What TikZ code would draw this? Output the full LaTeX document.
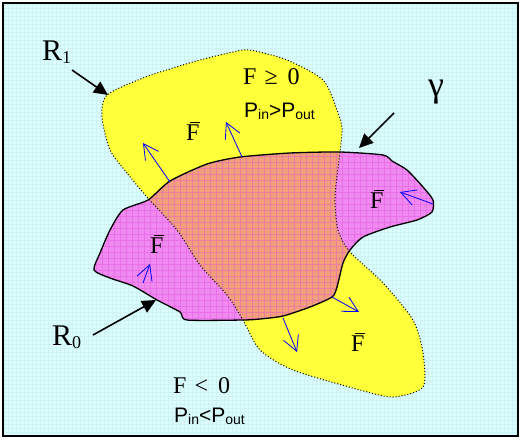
\documentclass[tikz,border=0pt]{standalone}
\usepackage{fontspec}
\setmainfont{Liberation Serif}
\newfontfamily\arial{Liberation Sans}
\usetikzlibrary{arrows.meta}
\definecolor{bgc}{HTML}{DCFDFD}
\definecolor{bggrid}{HTML}{CDF3F3}
\definecolor{yel}{HTML}{FFFF3A}
\definecolor{pnk}{HTML}{F08AF0}
\definecolor{pgrid}{HTML}{E040E0}
\definecolor{org}{HTML}{F2A07C}
\newcommand\vecF{\leavevmode\rlap{\hspace{0.16em}\raisebox{0.7em}{\rule{0.4em}{0.045em}}}F}
\newcommand\bigsz{\fontsize{30}{30}\selectfont}
\newcommand\midsz{\fontsize{24}{24}\selectfont}
\newcommand\subsz{\fontsize{18}{18}\selectfont}
\newcommand\psz{\arial\fontsize{21}{21}\selectfont}
\newcommand\pssz{\fontsize{14}{14}\selectfont}
\def\Rone{plot[smooth cycle, tension=0.45] coordinates {(147,197) (127,173) (110,150) (102,117) (107,95) (143,78) (173,68) (200,60) (233,52) (250,50) (287,60) (323,80) (337,110) (342,128) (340,152) (335,197) (338,230) (350,252) (383,283) (413,320) (423,353) (423,387) (393,397) (360,390) (293,370) (260,350) (243,320) (227,295) (200,265) (177,230)}}
\def\Rzero{plot[smooth cycle, tension=0.4] coordinates {(148,200) (170,181) (207,164) (240,157) (290,153) (340,152) (383,155) (392,161) (407,170) (423,187) (433,200) (432,212) (417,220) (390,227) (363,237) (350,250) (343,263) (337,287) (332,297) (310,307) (283,316) (260,319) (243,320) (187,320) (180,312) (157,300) (133,286) (110,278) (94,270) (100,253) (110,230) (123,210)}}
\tikzset{
  farrow/.style={draw=blue, line width=0.8pt, -{Straight Barb[length=15pt,width=16pt,line width=0.8pt]}},
  barrow/.style={draw=black, line width=1.6pt, -{Triangle[length=14pt,width=13pt]}},
  lbl/.style={inner sep=0pt, anchor=base west},
}
\begin{document}
\begin{tikzpicture}[x=1pt,y=-1pt]
\useasboundingbox (0,0) rectangle (521,439);
% background
\fill[bgc] (3,3) rectangle (518,436);
\draw[bggrid, line width=0.3pt, step=4pt] (3,3) grid (518,436);
% R1 yellow
\fill[yel] \Rone;
% R0 pink
\fill[pnk] \Rzero;
\begin{scope}
  \clip \Rzero;
  \fill[org] \Rone;
  \draw[pgrid, opacity=0.35, line width=0.6pt, step=6pt] (80,140) grid (440,330);
\end{scope}
% outlines
\draw[black, line width=1pt, dotted] \Rone;
\draw[black, line width=1.3pt] \Rzero;
% force arrows
\coordinate (a1s) at (170,182); \coordinate (a1e) at (143,143);
\coordinate (a2s) at (242,157); \coordinate (a2e) at (226,122);
\coordinate (a3s) at (433,204); \coordinate (a3e) at (400,192);
\coordinate (a4s) at (143,283); \coordinate (a4e) at (150,264);
\coordinate (a5s) at (332,297); \coordinate (a5e) at (359,312);
\coordinate (a6s) at (283,318); \coordinate (a6e) at (297,352);
\draw[farrow] (a1s) -- (a1e);
\draw[farrow] (a2s) -- (a2e);
\draw[farrow] (a3s) -- (a3e);
\draw[farrow] (a4s) -- (a4e);
\draw[farrow] (a5s) -- (a5e);
\draw[farrow] (a6s) -- (a6e);
% black pointer arrows
\coordinate (p1s) at (72,70); \coordinate (p1e) at (108,95);
\coordinate (p2s) at (394,113); \coordinate (p2e) at (359,148);
\coordinate (p3s) at (93,335); \coordinate (p3e) at (156,300);
\draw[barrow] (p1s) -- (p1e);
\draw[barrow] (p2s) -- (p2e);
\draw[barrow] (p3s) -- (p3e);
% labels
\node[lbl] (r1) at (42,60) {\bigsz R\raisebox{-3pt}{\subsz 1}};
\node[lbl] (r0) at (52,345) {\bigsz R\raisebox{-3pt}{\subsz 0}};
\node[lbl] (gam) at (428,96) {\fontsize{36}{36}\selectfont γ};
\node[lbl] (fge) at (243,84) {\midsz F\hspace{8pt}≥\hspace{10pt}0};
\node[lbl] (pge) at (244,117) {\psz P\raisebox{-2pt}{\pssz in}>P\raisebox{-2pt}{\pssz out}};
\node[lbl] (flt) at (173,393) {\midsz F\hspace{8pt}<\hspace{10pt}0};
\node[lbl] (plt) at (174,422) {\psz P\raisebox{-2pt}{\pssz in}<P\raisebox{-2pt}{\pssz out}};
\node[lbl] (v1) at (186,140) {\midsz\vecF};
\node[lbl] (v2) at (370,208) {\midsz\vecF};
\node[lbl] (v3) at (150,253) {\midsz\vecF};
\node[lbl] (v4) at (351,351) {\midsz\vecF};
% frame
\draw[black, line width=1.5pt] (3,3) rectangle (518,436);
\end{tikzpicture}
\end{document}
